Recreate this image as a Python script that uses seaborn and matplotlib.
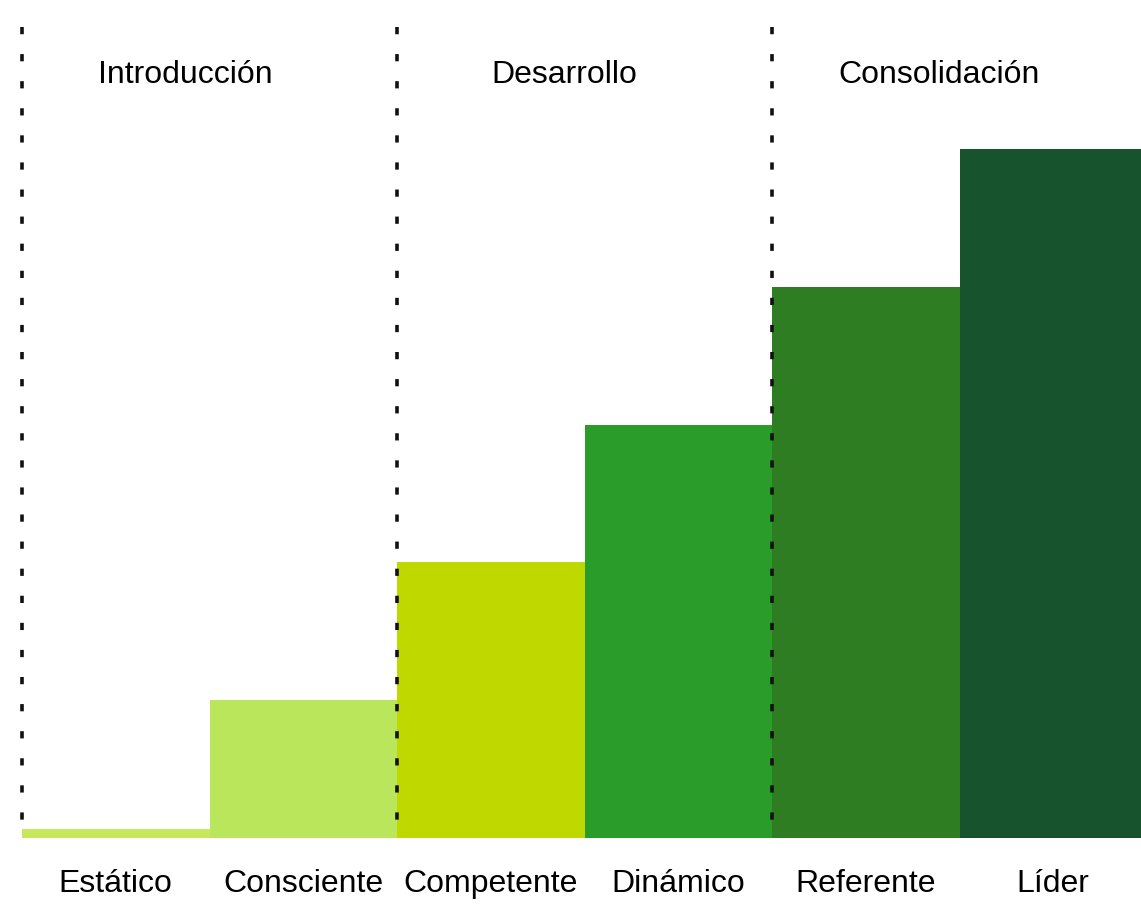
import matplotlib
matplotlib.use("Agg")
import matplotlib.pyplot as plt
import seaborn as sns
import pandas as pd

categories = ["Estático", "Consciente", "Competente", "Dinámico", "Referente", "Líder"]
values = [0.065, 1.0, 2.0, 3.0, 4.0, 5.0]
colors = ["#c8e85c", "#b9e65a", "#bfd800", "#2a9c2a", "#2f7d22", "#17532c"]
phases = ["Introducción", "Desarrollo", "Consolidación"]
phase_label_x = [0.37, 2.39, 4.39]
phase_bounds = [-0.5, 1.5, 3.5]

sns.set_theme(style="white")
plt.rcParams['font.family'] = ['Liberation Sans', 'DejaVu Sans']

unit_px = 187.5
fig = plt.figure(figsize=(11.41, 9.16), dpi=100)
ax = fig.add_axes([22/1141, 78/916, 6*unit_px/1141, (916-78)/916])

df = pd.DataFrame({"cat": categories, "val": values})
sns.barplot(data=df, x="cat", y="val", hue="cat", palette=colors, width=1.0,
            saturation=1, legend=False, ax=ax, linewidth=0)

ax.set_xlim(-0.5, 5.5)
ax.set_ylim(0, 838/137.8)

vl = ax.vlines(phase_bounds, (838-27)/137.8, 0, colors="#111111", linewidth=2.6,
               linestyles=[(0, (2.0, 5.5))], zorder=5)
vl.set_clip_on(False)

for x, t in zip(phase_label_x, phases):
    ax.text(x, (838-75)/137.8, t, ha="center", va="center", fontsize=23, color="black")

for s in ax.spines.values():
    s.set_visible(False)
ax.set_yticks([])
ax.set_xlabel("")
ax.set_ylabel("")
ax.tick_params(axis="x", length=0, pad=22, labelsize=23, labelcolor="black")

fig.savefig("out.png", dpi=100)
